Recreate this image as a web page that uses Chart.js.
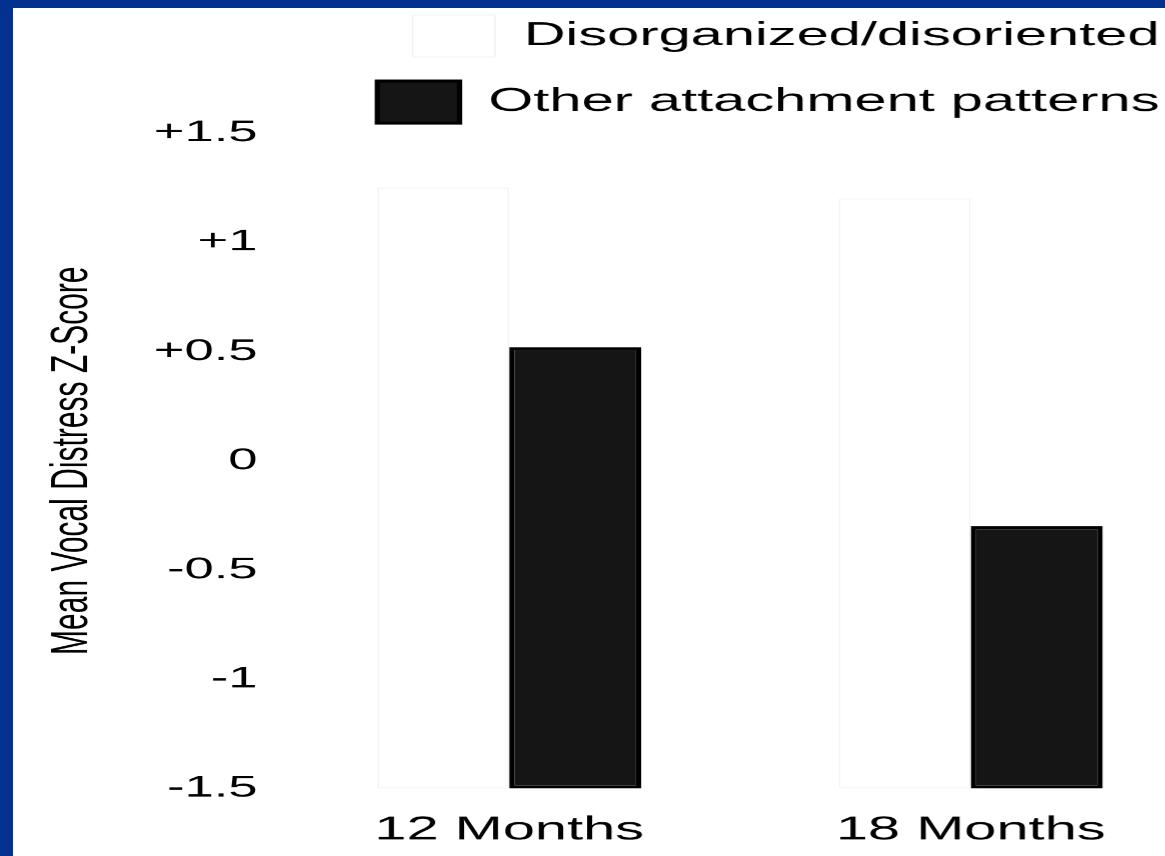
<!DOCTYPE html>
<html>
<head>
<meta charset="utf-8">
<script src="https://cdn.jsdelivr.net/npm/chart.js@4/dist/chart.umd.min.js"></script>
<style>
  body { margin: 0; width: 1165px; height: 856px; background: #02318f; overflow: hidden; }
  #frame { position: absolute; left: 13px; top: 8px; width: 1152px; height: 848px; background: #fff; overflow: hidden; }
  /* the scanned figure is stretched sideways, so the chart is drawn narrow and widened */
  #wrap { position: absolute; left: 0; top: 0; width: 679px; height: 848px; transform: scaleX(1.75); transform-origin: 0 0; }
</style>
</head>
<body>
<div id="frame">
  <div id="wrap"><canvas id="distressChart"></canvas></div>
</div>
<script>
// Data
const ageGroups = ['12 Months', '18 Months'];
const disorganizedScores = [1.25, 1.2];
const otherPatternScores = [0.52, -0.3];
const seriesNames = ['Disorganized/disoriented', 'Other attachment patterns'];
const yTicks = [-1.5, -1, -0.5, 0, 0.5, 1, 1.5];
const yTickLabels = ['-1.5', '-1', '-0.5', '0', '+0.5', '+1', '+1.5'];
const yTitle = 'Mean Vocal Distress Z-Score';

const yMin = yTicks[0];
const yMax = yTicks[yTicks.length - 1];

Chart.defaults.font.family = "'Liberation Sans', Arial, sans-serif";
Chart.defaults.color = '#000';

const ctx = document.getElementById('distressChart').getContext('2d');
const distressChart = new Chart(ctx, {
  type: 'bar',
  data: {
    labels: ageGroups,
    datasets: [
      {
        label: seriesNames[0],
        data: disorganizedScores,
        base: yMin,
        backgroundColor: '#ffffff',
        borderColor: 'rgba(0, 0, 0, 0.05)',
        borderWidth: 1,
        borderSkipped: false
      },
      {
        label: seriesNames[1],
        data: otherPatternScores,
        base: yMin,
        backgroundColor: '#151515',
        borderColor: '#000000',
        borderWidth: 3,
        borderSkipped: false
      }
    ]
  },
  options: {
    responsive: true,
    maintainAspectRatio: false,
    animation: false,
    devicePixelRatio: 1.75,
    layout: { padding: { top: -17, right: 0, bottom: -16, left: 0 } },
    datasets: {
      bar: { categoryPercentage: 0.572, barPercentage: 1.0 }
    },
    plugins: {
      tooltip: { enabled: false },
      legend: {
        position: 'top',
        align: 'end',
        labels: {
          font: { size: 33 },
          color: '#000',
          boxWidth: 47,
          boxHeight: 42,
          padding: 24
        }
      }
    },
    scales: {
      x: {
        grid: { display: false, drawTicks: false },
        border: { display: false },
        ticks: { font: { size: 33 }, color: '#000', padding: 22 }
      },
      y: {
        min: yMin,
        max: yMax,
        grid: { display: false, drawTicks: false },
        border: { display: false },
        ticks: {
          stepSize: 0.5,
          padding: 12,
          font: { size: 30 },
          color: '#000',
          callback: (v) => yTickLabels[yTicks.indexOf(Math.round(v * 10) / 10)]
        },
        title: {
          display: true,
          text: yTitle,
          color: '#000',
          font: { size: 30 },
          padding: { top: 16, bottom: 0 }
        },
        afterFit: (scale) => { scale.width = 151.7; }
      }
    }
  }
});
</script>
</body>
</html>
